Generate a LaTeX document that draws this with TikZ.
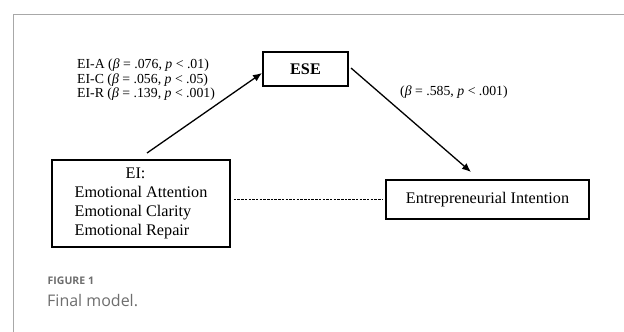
\documentclass[tikz,border=0pt]{standalone}
\usepackage{fontspec}
\setmainfont{Liberation Serif}
\newfontfamily\capfont{Open Sans}
\usetikzlibrary{arrows.meta}
\definecolor{framegray}{HTML}{A8A8A8}
\definecolor{capgray}{HTML}{6E6E6E}
\tikzset{
  boxnode/.style={draw=black, line width=1.5pt, inner sep=0pt, font=\fontsize{16.2}{19}\selectfont},
  lbl/.style={inner sep=0pt, anchor=west, font=\fontsize{13.8}{14.5}\selectfont, align=left},
  arr/.style={line width=1.3pt, -{Latex[length=9pt,width=7.5pt]}},
  dline/.style={line width=1pt, dash pattern=on 2.5pt off 1.2pt}
}
\begin{document}
\begin{tikzpicture}[x=1pt,y=-1pt]
\fill[white] (0,0) rectangle (624,332);
\useasboundingbox (0,0) rectangle (624,332);
% frame
\draw[framegray, line width=1.5pt] (13.7,332) -- (13.7,14.3) -- (624,14.3);
% nodes
\node[boxnode, minimum width=85pt, minimum height=34pt] (ESE) at (305.5,69) {\bfseries ESE};
\node[boxnode, minimum width=178pt, minimum height=87pt, align=left] (EI) at (141,203.5)
  {\hspace*{51pt}EI:\\Emotional Attention\\Emotional Clarity\\Emotional Repair};
\node[boxnode, minimum width=203pt, minimum height=39pt] (EIint) at (487.5,199.5) {Entrepreneurial Intention};
% labels
\node[lbl] (la) at (77,65.5) {EI-A (\textit{β} = .076, \textit{p} < .01)};
\node[lbl] (lc) at (77,80) {EI-C (\textit{β} = .056, \textit{p} < .05)};
\node[lbl] (lr) at (77,94.5) {EI-R (\textit{β} = .139, \textit{p} < .001)};
\node[lbl] (lb) at (400,92.5) {(\textit{β} = .585, \textit{p} < .001)};
% connectors
\coordinate (s1) at (147,153);
\coordinate (t1) at (262,73);
\coordinate (s2) at (351,68);
\coordinate (t2) at (471,172);
\draw[arr] (s1) -- (t1);
\draw[arr] (s2) -- (t2);
\draw[dline] ([xshift=3pt]EI.east |- EIint.west) -- ([xshift=-3pt]EIint.west);
% caption
\node[anchor=west, inner sep=0pt, text=capgray, font=\capfont\bfseries\fontsize{10.5}{12}\selectfont] (cap1) at (47.5,281) {FIGURE 1};
\node[anchor=west, inner sep=0pt, text=capgray, font=\capfont\fontsize{16}{18}\selectfont] (cap2) at (47,300.5) {Final model.};
\end{tikzpicture}
\end{document}
